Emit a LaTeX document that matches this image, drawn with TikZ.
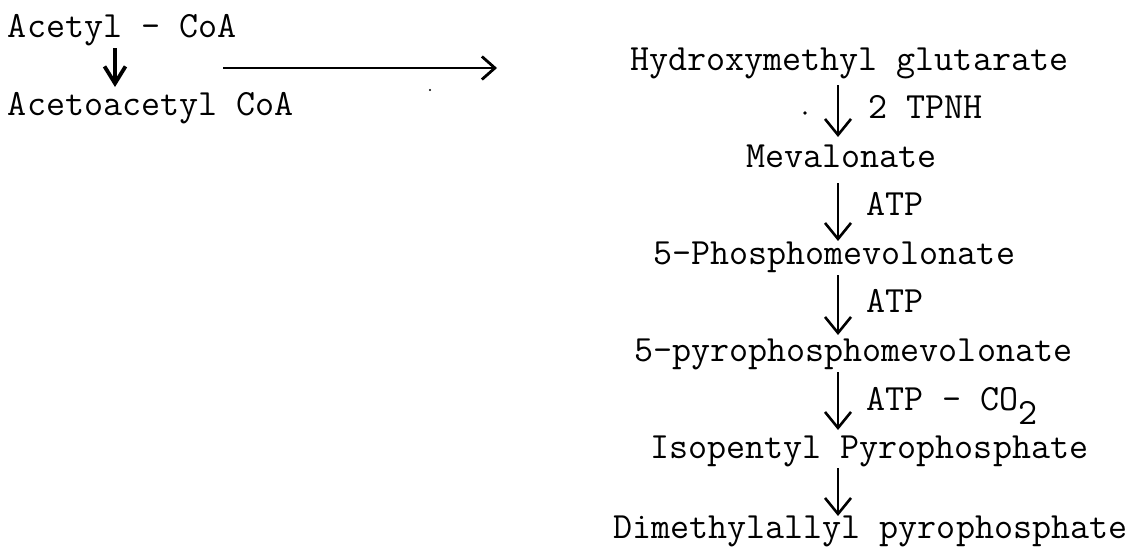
\documentclass[tikz,border=0pt]{standalone}
\usepackage{fontspec}
\usetikzlibrary{arrows.meta}
% typewriter face: a firmer strike for compounds, a plain one for cofactors
\newcommand\typedface{\ttfamily\fontsize{37}{40}\selectfont\addfontfeature{FakeBold=3}}
\newcommand\typedlight{\ttfamily\fontsize{37}{40}\selectfont\addfontfeature{FakeBold=1}}

\begin{document}
\begin{tikzpicture}[x=1pt,y=-1pt,
  chem/.style={inner sep=0pt, outer sep=0pt, anchor=base west,
    text height=22pt, text depth=7pt, font=\typedface},
  cofactor/.style={chem, font=\typedlight},
  rxn/.style={line width=2.6pt,
    -{Straight Barb[length=16pt,width=26pt,line width=2.6pt]}},
  smallrxn/.style={line width=3.6pt,
    -{Straight Barb[length=17pt,width=21pt,line width=3.8pt]}},
  feed/.style={line width=2.4pt,
    -{Straight Barb[length=13pt,width=23pt,line width=2.8pt]}},
]
\useasboundingbox (0,0) rectangle (1139,547);

% left branch
\node[chem] (acetyl) at (8,37)  {Acetyl - CoA};
\node[chem] (acac)   at (8,115) {Acetoacetyl CoA};
\coordinate (leftaxis) at (115,0);
\draw[smallrxn, shorten <=4pt, shorten >=6pt]
  (acetyl.south -| leftaxis) -- (acac.north -| leftaxis);

% feed arrow towards the main pathway
\coordinate (hstart) at (223,68);
\coordinate (hend)   at (497,68);
\draw[feed] (hstart) -- (hend);
\fill (430,90) circle (1.1pt);

% main pathway
\node[cofactor] (hmg)  at (630,70)  {Hydroxymethyl glutarate};
\node[chem]     (mev)  at (746,167) {Mevalonate};
\node[chem]     (pmev) at (653,264) {5-Phosphomevolonate};
\node[chem]     (ppmev) at (634,361) {5-pyrophosphomevolonate};
\node[chem]     (ipp)  at (650,458) {Isopentyl Pyrophosphate};
\node[chem]     (dmap) at (613,538) {Dimethylallyl pyrophosphate};

% cofactors beside the steps
\node[cofactor] (tpnh) at (868,118) {2 TPNH};
\node[cofactor] (atpa) at (866,215) {ATP};
\node[cofactor] (atpb) at (866,312) {ATP};
\node[cofactor] (atpc) at (866,410) {ATP - CO\raisebox{-14pt}{2}};
\fill (805,113) circle (1.8pt);

% reaction arrows
\coordinate (axis) at (838,0);
\draw[rxn, shorten <=8pt, shorten >=8pt] (hmg.south -| axis)   -- (mev.north -| axis);
\draw[rxn, shorten <=9pt, shorten >=1pt] (mev.south -| axis)   -- (pmev.north -| axis);
\draw[rxn, shorten <=4pt, shorten >=4pt] (pmev.south -| axis)  -- (ppmev.north -| axis);
\draw[rxn, shorten <=4pt, shorten >=6pt] (ppmev.south -| axis) -- (ipp.north -| axis);
\draw[rxn, shorten <=3pt, shorten >=0pt] (ipp.south -| axis)   -- (dmap.north -| axis);
\end{tikzpicture}
\end{document}
